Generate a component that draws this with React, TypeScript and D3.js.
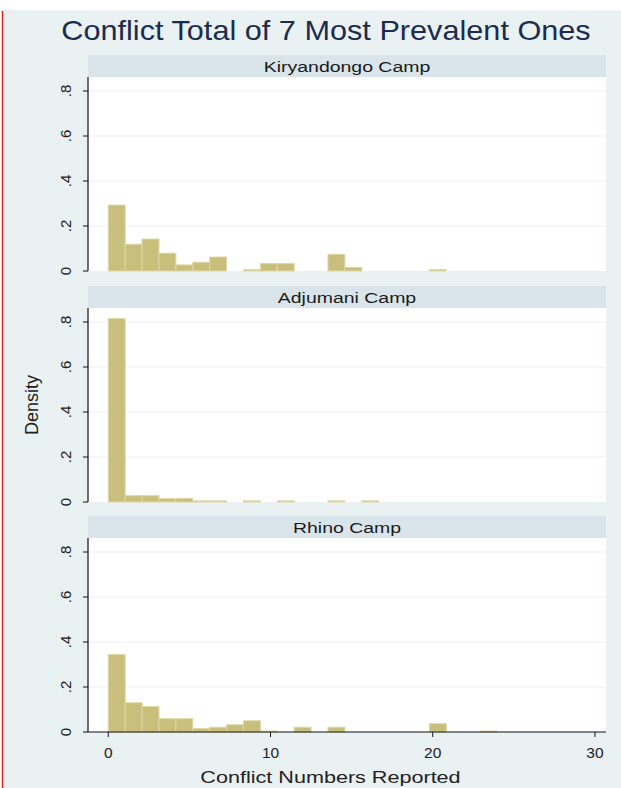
import React from "react";
import * as d3 from "d3";

const title = "Conflict Total of 7 Most Prevalent Ones";
const camps = ["Kiryandongo Camp", "Adjumani Camp", "Rhino Camp"];
const binWidth = 25 / 24;
const kiryandongo = [0.293, 0.119, 0.142, 0.079, 0.027, 0.039, 0.062, 0, 0.006, 0.033, 0.033, 0, 0, 0.074, 0.016, 0, 0, 0, 0, 0.006];
const adjumani = [0.815, 0.028, 0.028, 0.015, 0.016, 0.005, 0.005, 0, 0.005, 0, 0.005, 0, 0, 0.005, 0, 0.005];
const rhino = [0.344, 0.13, 0.113, 0.059, 0.059, 0.015, 0.021, 0.032, 0.05, 0.004, 0, 0.021, 0, 0.021, 0, 0, 0, 0, 0, 0.037, 0, 0, 0.004];
const seriesList = [kiryandongo, adjumani, rhino];
const yTicks = [0, 0.2, 0.4, 0.6, 0.8];
const yTickLabels = ["0", ".2", ".4", ".6", ".8"];
const xTicks = [0, 10, 20, 30];
const xLabel = "Conflict Numbers Reported";
const yLabel = "Density";

const W = 621;
const H = 788;
const plotLeft = 88;
const plotRight = 606;
const panelTops = [77, 308, 538];
const plotH = 194;
const stripH = 22;
const font = "'Liberation Sans', Arial, sans-serif";

export default function App() {
  const x = d3.scaleLinear().domain([-1.25, 30.68]).range([plotLeft, plotRight]);
  const bg = "#eaf1f3";
  const cx = (plotLeft + plotRight) / 2;
  return (
    <div style={{ position: "absolute", left: 0, top: 0 }}>
      <svg width={W} height={H} style={{ display: "block" }} fontFamily={font}>
        <rect x={0} y={0} width={W} height={H} fill="#ffffff" />
        <rect x={3} y={10} width={W - 3} height={H - 10} fill={bg} />
        <line x1={2.5} x2={2.5} y1={11} y2={H} stroke="#e8201c" strokeWidth={1.5} />
        <text transform="translate(326,40) scale(1.095,1)" textAnchor="middle" fontSize={28} fill="#1c2b4e">{title}</text>
        <text transform="translate(38,405) rotate(-90)" textAnchor="middle" fontSize={18} fill="#222">{yLabel}</text>
        {seriesList.map((vals, pi) => {
          const top = panelTops[pi];
          const bottom = top + plotH;
          const y = d3.scaleLinear().domain([0, plotH / 225]).range([bottom, top]);
          return (
            <g key={pi}>
              <rect x={plotLeft} y={top - stripH} width={plotRight - plotLeft} height={stripH} fill="#d9e5ea" />
              <text transform={`translate(${cx},${top - 5}) scale(1.256,1)`} textAnchor="middle" fontSize={15.5} fill="#1a1a1a">{camps[pi]}</text>
              <rect x={plotLeft} y={top} width={plotRight - plotLeft} height={plotH} fill="#ffffff" />
              {yTicks.filter((t) => t > 0).map((t) => (
                <line key={t} x1={plotLeft} x2={plotRight} y1={y(t)} y2={y(t)} stroke={bg} strokeWidth={1} />
              ))}
              {vals.map((v, i) =>
                v > 0 ? (
                  <rect
                    key={i}
                    x={x(i * binWidth)}
                    y={y(v)}
                    width={x((i + 1) * binWidth) - x(i * binWidth)}
                    height={y(0) - y(v)}
                    fill="#c9bf7d"
                    stroke="#ddd6a4"
                    strokeWidth={1}
                  />
                ) : null
              )}
              <line x1={plotLeft} x2={plotLeft} y1={top} y2={bottom} stroke="#111" strokeWidth={1.2} />
              {yTicks.map((t, ti) => (
                <g key={t}>
                  <line x1={plotLeft - 5} x2={plotLeft} y1={y(t)} y2={y(t)} stroke="#111" strokeWidth={1} />
                  <text transform={`translate(${plotLeft - 17},${y(t)}) rotate(-90)`} textAnchor="middle" fontSize={15} fill="#222">
                    {yTickLabels[ti]}
                  </text>
                </g>
              ))}
              {pi === seriesList.length - 1 && (
                <g>
                  <line x1={plotLeft} x2={plotRight} y1={bottom} y2={bottom} stroke="#111" strokeWidth={1.2} />
                  {xTicks.map((t) => (
                    <g key={t}>
                      <line x1={x(t)} x2={x(t)} y1={bottom} y2={bottom + 5} stroke="#111" strokeWidth={1} />
                      <text x={x(t)} y={bottom + 26} textAnchor="middle" fontSize={15.5} fill="#222">{t}</text>
                    </g>
                  ))}
                  <text transform={`translate(330.5,${bottom + 51}) scale(1.27,1)`} textAnchor="middle" fontSize={17} fill="#222">{xLabel}</text>
                </g>
              )}
            </g>
          );
        })}
      </svg>
    </div>
  );
}
